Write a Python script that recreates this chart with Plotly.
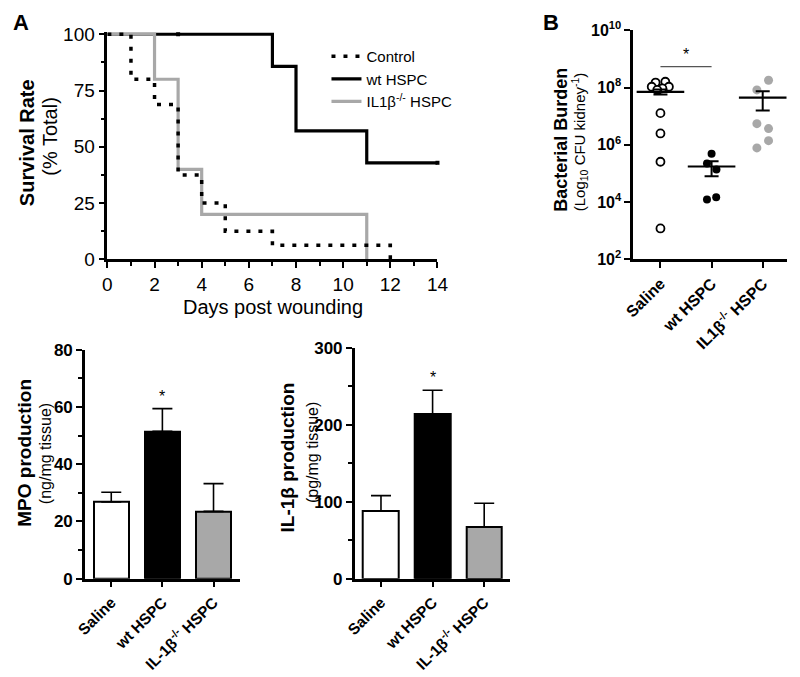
import plotly.graph_objects as go

# ---------------- data ----------------
# Panel A: Kaplan-Meier survival (%)
control_days = [0, 1, 2, 3, 4, 5, 7, 12]
control_surv = [100, 80, 68.75, 37.5, 25, 12.5, 6.25, 0]
wt_days = [0, 7, 8, 11, 14]
wt_surv = [100, 85.7, 57.1, 42.9, 42.9]
wt_censor_days = [3, 14]
wt_censor_surv = [100, 42.9]
ko_days = [0, 2, 3, 4, 11]
ko_surv = [100, 80, 40, 20, 0]
survival_names = ["Control", "wt HSPC", "IL1β<sup>-/-</sup> HSPC"]
day_ticks = [0, 2, 4, 6, 8, 10, 12, 14]
surv_ticks = [0, 25, 50, 75, 100]

# Panel B: bacterial burden (CFU / kidney)
b_groups = ["Saline", "wt HSPC", "IL1β<sup>-/-</sup> HSPC"]
saline_cfu = [1.5e8, 1.6e8, 1.07e8, 1.07e8, 9.4e7, 8.3e7, 1.28e7, 2.5e6, 2.57e5, 1.2e3]
saline_off = [-0.095, 0.095, -0.171, 0.165, 0.038, -0.063, 0, 0, 0, 0]
wt_cfu = [4.9e5, 2.24e5, 1.38e5, 1.23e4, 1.48e4]
wt_off = [0, -0.09, 0.095, -0.09, 0.09]
ko_cfu = [1.8e8, 8.3e7, 5.5e6, 3.7e6, 1.4e6, 7.8e5]
ko_off = [0.114, -0.114, -0.114, 0.114, 0.114, -0.114]
cfu_mean = [7.1e7, 1.75e5, 4.5e7]
cfu_sem = [1.4e7, 9.5e4, 2.9e7]
cfu_sig_pair = [0, 1]
cfu_sig_level = 5.4e8
cfu_ticks = [1e2, 1e4, 1e6, 1e8, 1e10]
cfu_ticktext = ["<b>10<sup>2</sup></b>", "<b>10<sup>4</sup></b>", "<b>10<sup>6</sup></b>",
                "<b>10<sup>8</sup></b>", "<b>10<sup>10</sup></b>"]

# Bottom panels
bar_groups = ["Saline", "wt HSPC", "IL-1β<sup>-/-</sup> HSPC"]
mpo_mean = [26.8, 51.5, 23.5]
mpo_err = [3.4, 7.9, 9.7]
il1b_mean = [88, 214, 67]
il1b_err = [20, 31, 31]
bar_colors = ["#ffffff", "#000000", "#a8a8a8"]

# ---------------- styling ----------------
FONT = "Liberation Sans, Arial, sans-serif"
W, H = 800, 677
GRAY = "#a8a8a8"


def fx(p):
    return p / W


def fy(p):
    return 1 - p / H


fig = go.Figure()

# ---- Panel A ----
fig.add_trace(go.Scatter(x=wt_days, y=wt_surv, mode="lines", line_shape="hv",
                         line=dict(color="black", width=3.2), name=survival_names[1],
                         legendrank=2, xaxis="x", yaxis="y"))
fig.add_trace(go.Scatter(x=ko_days, y=ko_surv, mode="lines", line_shape="hv",
                         line=dict(color=GRAY, width=3.2), name=survival_names[2],
                         legendrank=3, xaxis="x", yaxis="y"))
fig.add_trace(go.Scatter(x=control_days, y=control_surv, mode="lines", line_shape="hv",
                         line=dict(color="black", width=3.5, dash="4px,8px"),
                         name=survival_names[0], legendrank=1, xaxis="x", yaxis="y"))
fig.add_trace(go.Scatter(x=wt_censor_days, y=wt_censor_surv, mode="markers",
                         marker=dict(symbol="square", size=4, color="black"),
                         showlegend=False, xaxis="x", yaxis="y", cliponaxis=False))

# ---- Panel B ----
fig.add_trace(go.Scatter(x=[0 + o for o in saline_off], y=saline_cfu, mode="markers",
                         marker=dict(color="white", size=8, line=dict(color="black", width=1.8)),
                         showlegend=False, xaxis="x2", yaxis="y2", cliponaxis=False))
fig.add_trace(go.Scatter(x=[1 + o for o in wt_off], y=wt_cfu, mode="markers",
                         marker=dict(color="black", size=8),
                         showlegend=False, xaxis="x2", yaxis="y2", cliponaxis=False))
fig.add_trace(go.Scatter(x=[2 + o for o in ko_off], y=ko_cfu, mode="markers",
                         marker=dict(color=GRAY, size=9),
                         showlegend=False, xaxis="x2", yaxis="y2", cliponaxis=False))
fig.add_trace(go.Scatter(x=[0, 1, 2], y=cfu_mean, mode="markers",
                         marker=dict(symbol="line-ew", size=34, color="black",
                                     line=dict(color="black", width=2.2)),
                         error_y=dict(type="data", array=cfu_sem, color="black",
                                      thickness=2, width=7),
                         showlegend=False, xaxis="x2", yaxis="y2", cliponaxis=False))
fig.add_trace(go.Scatter(x=cfu_sig_pair, y=[cfu_sig_level] * 2, mode="lines",
                         line=dict(color="#555555", width=1.2),
                         showlegend=False, xaxis="x2", yaxis="y2"))

# ---- MPO ----
fig.add_trace(go.Bar(x=[0, 1, 2], y=mpo_mean, width=0.69,
                     marker=dict(color=bar_colors, line=dict(color="black", width=2)),
                     error_y=dict(type="data", array=mpo_err, arrayminus=[0, 0, 0],
                                  symmetric=False, color="black", thickness=1.6, width=10),
                     showlegend=False, xaxis="x3", yaxis="y3"))

# ---- IL-1b ----
fig.add_trace(go.Bar(x=[0, 1, 2], y=il1b_mean, width=0.69,
                     marker=dict(color=bar_colors, line=dict(color="black", width=2)),
                     error_y=dict(type="data", array=il1b_err, arrayminus=[0, 0, 0],
                                  symmetric=False, color="black", thickness=1.6, width=10),
                     showlegend=False, xaxis="x4", yaxis="y4"))

axis_common = dict(showline=True, linecolor="black", linewidth=2.5, showgrid=False,
                   zeroline=False, ticks="outside", tickcolor="black", tickwidth=2,
                   ticklen=6, color="black")
minor_common = dict(ticks="outside", ticklen=4, tickwidth=2, tickcolor="black", showgrid=False)

fig.update_layout(
    width=W, height=H, margin=dict(l=0, r=0, t=0, b=0),
    paper_bgcolor="white", plot_bgcolor="white",
    font=dict(family=FONT, color="black"),
    bargap=0,
    legend=dict(x=fx(325), y=fy(30), xanchor="left", yanchor="top",
                font=dict(size=15, family=FONT), bgcolor="rgba(0,0,0,0)",
                itemwidth=30, tracegroupgap=0),
    xaxis=dict(axis_common, anchor="y", domain=[fx(100), fx(439)], range=[0, 14],
               tickvals=day_ticks, tickfont=dict(size=19),
               minor=dict(minor_common, dtick=1)),
    yaxis=dict(axis_common, anchor="x", domain=[fy(256.7), fy(21.7)], range=[0, 101],
               tickvals=surv_ticks, tickfont=dict(size=19),
               minor=dict(minor_common, dtick=12.5)),
    xaxis2=dict(axis_common, anchor="y2", domain=[fx(640), fx(798)], range=[-0.533, 2.476],
                tickvals=[0, 1, 2], ticktext=["<b>%s</b>" % g for g in b_groups],
                tickangle=-45, tickfont=dict(size=16)),
    yaxis2=dict(axis_common, anchor="x2", type="log", domain=[fy(256.7), fy(20)],
                range=[2, 10], tickvals=cfu_ticks, ticktext=cfu_ticktext,
                tickfont=dict(size=16)),
    xaxis3=dict(axis_common, anchor="y3", domain=[fx(77), fx(236)], range=[-0.514, 2.514],
                tickvals=[0, 1, 2], ticktext=["<b>%s</b>" % g for g in bar_groups],
                tickangle=-45, tickfont=dict(size=15.5)),
    yaxis3=dict(axis_common, anchor="x3", domain=[fy(586.7), fy(350)], range=[0, 80],
                tickvals=[0, 20, 40, 60, 80], ticktext=["<b>%d</b>" % v for v in [0, 20, 40, 60, 80]],
                tickfont=dict(size=17), minor=dict(minor_common, dtick=10)),
    xaxis4=dict(axis_common, anchor="y4", domain=[fx(354), fx(513)], range=[-0.509, 2.491],
                tickvals=[0, 1, 2], ticktext=["<b>%s</b>" % g for g in bar_groups],
                tickangle=-45, tickfont=dict(size=15.5)),
    yaxis4=dict(axis_common, anchor="x4", domain=[fy(586.7), fy(348.3)], range=[0, 300],
                tickvals=[0, 100, 200, 300], ticktext=["<b>%d</b>" % v for v in [0, 100, 200, 300]],
                tickfont=dict(size=17), minor=dict(minor_common, dtick=50)),
)


def paper_text(x, y, text, size, angle=0, xanchor="center"):
    fig.add_annotation(x=fx(x), y=fy(y), xref="paper", yref="paper", text=text,
                       showarrow=False, textangle=angle, xanchor=xanchor, yanchor="middle",
                       font=dict(size=size, family=FONT, color="black"))


# panel letters
paper_text(1, 12, "<b>A</b>", 22, xanchor="left")
paper_text(556, 12, "<b>B</b>", 22)

# Panel A titles
paper_text(17, 136, "<b>Survival Rate</b>", 20, -90)
paper_text(41, 129, "(% Total)", 20, -90)
paper_text(270, 306, "Days post wounding", 20)

# Panel B titles
paper_text(566, 133, "<b>Bacterial Burden</b>", 18, -90)
paper_text(585, 135, "(Log<sub>10</sub> CFU kidney<sup>-1</sup>)", 15, -90)

# MPO titles
paper_text(15, 457, "<b>MPO production</b>", 19, -90)
paper_text(36, 458, "(ng/mg tissue)", 16, -90)

# IL-1b titles
paper_text(285, 462, "<b>IL-1β production</b>", 19, -90)
paper_text(310, 456, "(pg/mg tissue)", 16, -90)

# significance stars
fig.add_annotation(x=0.5, y=8.73, xref="x2", yref="y2", text="*", showarrow=False,
                   yanchor="bottom", yshift=2, font=dict(size=16, family=FONT, color="black"))
fig.add_annotation(x=1, y=mpo_mean[1] + mpo_err[1], xref="x3", yref="y3", text="*",
                   showarrow=False, yanchor="bottom", yshift=2,
                   font=dict(size=16, family=FONT, color="black"))
fig.add_annotation(x=1, y=il1b_mean[1] + il1b_err[1], xref="x4", yref="y4", text="*",
                   showarrow=False, yanchor="bottom", yshift=2,
                   font=dict(size=16, family=FONT, color="black"))

fig.write_html(
    "out.html",
    config={"displayModeBar": False},
    post_script=("document.body.style.margin='0px';"
                 "document.body.style.overflow='hidden';"
                 "document.documentElement.style.overflow='hidden';"),
)
